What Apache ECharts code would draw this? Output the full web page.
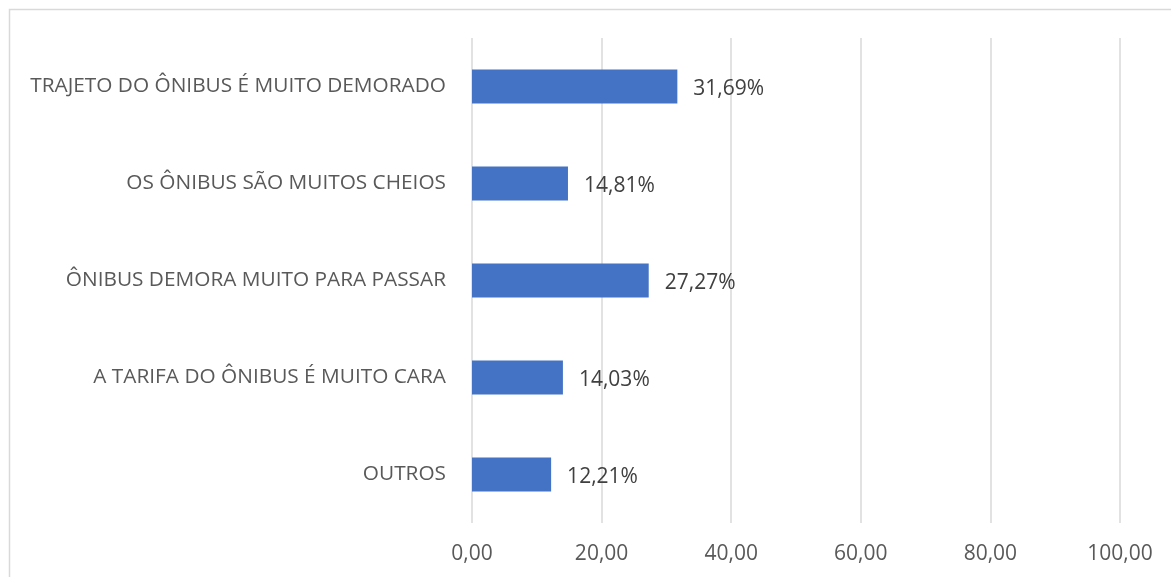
<!DOCTYPE html>
<html>
<head>
<meta charset="utf-8">
<script src="https://cdn.jsdelivr.net/npm/echarts@6/dist/echarts.min.js"></script>
<style>
  html, body { margin: 0; padding: 0; background: #fff; }
  #main { width: 1171px; height: 577px; }
</style>
</head>
<body>
<div id="main"></div>
<script>
// categories listed bottom to top (echarts category axis starts at the bottom)
var categorias = [
    'OUTROS',
    'A TARIFA DO ÔNIBUS É MUITO CARA',
    'ÔNIBUS DEMORA MUITO PARA PASSAR',
    'OS ÔNIBUS SÃO MUITOS CHEIOS',
    'TRAJETO DO ÔNIBUS É MUITO DEMORADO'
];
var percentuais = [12.21, 14.03, 27.27, 14.81, 31.69];

var chart = echarts.init(document.getElementById('main'));
var fonte = '"Open Sans", "Noto Sans", sans-serif';

var option = {
    animation: false,
    textStyle: { fontFamily: fonte },
    graphic: [{
        type: 'rect',
        shape: { x: 9.5, y: 9.5, width: 1300, height: 700 },
        style: { fill: 'none', stroke: '#d9d9d9', lineWidth: 1.5 },
        silent: true
    }],
    grid: { left: 472, right: 51, top: 38, bottom: 54 },
    xAxis: {
        type: 'value',
        min: 0,
        max: 100,
        interval: 20,
        axisLine: { show: false },
        axisTick: { show: false },
        splitLine: { lineStyle: { color: '#d9d9d9', width: 1.5 } },
        axisLabel: {
            color: '#595959',
            fontSize: 21,
            margin: 21,
            formatter: function (v) { return v.toFixed(2).replace('.', ','); }
        }
    },
    yAxis: {
        type: 'category',
        data: categorias,
        axisLine: { show: false },
        axisTick: { show: false },
        axisLabel: { color: '#595959', fontSize: 20.8, margin: 26, padding: [4, 0, 0, 0] }
    },
    series: [{
        type: 'bar',
        data: percentuais,
        barWidth: 34,
        itemStyle: { color: '#4472c4' },
        label: {
            show: true,
            position: 'right',
            distance: 16,
            offset: [0, 3],
            color: '#404040',
            fontSize: 21,
            formatter: function (p) { return p.value.toFixed(2).replace('.', ',') + '%'; }
        }
    }]
};

chart.setOption(option);
</script>
</body>
</html>
